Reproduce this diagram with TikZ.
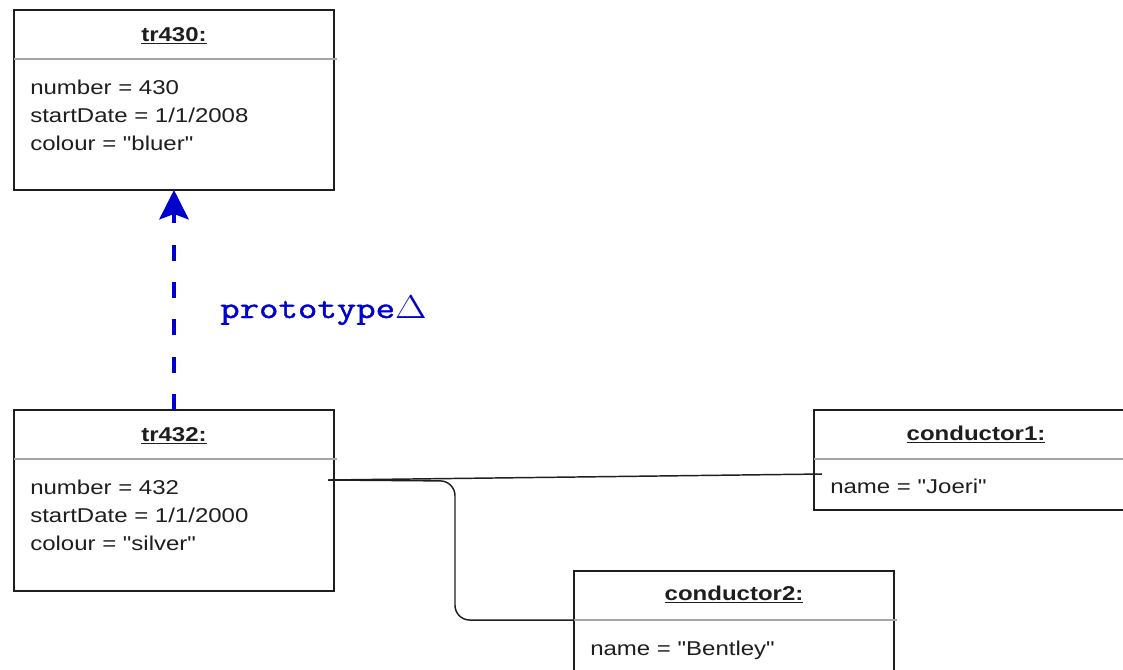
\documentclass[tikz,border=0pt]{standalone}
\usepackage{graphicx}
\usepackage[no-math]{fontspec}
\setmainfont{Liberation Sans}[FakeStretch=1.2, Ligatures=TeXOff]
\newfontfamily\protofont{Latin Modern Mono}[FakeBold=1.2]
\usetikzlibrary{arrows.meta,calc}
\definecolor{protoblue}{RGB}{0,0,205}
\definecolor{divgray}{RGB}{165,165,165}
\definecolor{inkcol}{RGB}{30,30,30}
\tikzset{
  objbox/.style={draw=inkcol, line width=1.4pt, inner sep=0pt, outer sep=0pt},
  divider/.style={draw=divgray, line width=1.2pt},
  objtitle/.style={font=\fontsize{15pt}{21pt}\selectfont\bfseries, text=inkcol, inner sep=0pt, anchor=base},
  attr/.style={font=\fontsize{15pt}{21pt}\selectfont, text=inkcol, inner sep=0pt, anchor=base west},
  link/.style={draw=inkcol, line width=1.1pt},
  protolink/.style={draw=protoblue, line width=3pt, dash pattern=on 12pt off 16pt, -{Stealth[length=22pt,width=22pt,inset=4pt]}},
  protolabel/.style={text=protoblue, inner sep=0pt, anchor=base west, font=\fontsize{23pt}{28pt}\selectfont\protofont}
}
\begin{document}
\begin{tikzpicture}[x=0.75pt,y=-0.75pt]
\clip (0,0) rectangle (1123,669);
\useasboundingbox (0,0) rectangle (1123,669);

% tr430
\node[objbox, minimum width=240pt, minimum height=135pt] (tr430) at (174,100) {};
\draw[divider] ($(tr430.north west)+(0,49)$) -- ($(tr430.north east)+(3,49)$);
\node[objtitle] (tr430t) at ($(tr430.north)+(0,31)$) {\underline{tr430:}};
\node[attr] (tr430a) at ($(tr430.north west)+(16,84)$) {number = 430};
\node[attr] (tr430b) at ($(tr430.north west)+(16,112)$) {startDate = 1/1/2008};
\node[attr] (tr430c) at ($(tr430.north west)+(16,140)$) {colour = "bluer"};

% tr432
\node[objbox, minimum width=240pt, minimum height=135.75pt] (tr432) at (174,500.5) {};
\draw[divider] ($(tr432.north west)+(0,49)$) -- ($(tr432.north east)+(3,49)$);
\node[objtitle] (tr432t) at ($(tr432.north)+(0,31)$) {\underline{tr432:}};
\node[attr] (tr432a) at ($(tr432.north west)+(16,84)$) {number = 432};
\node[attr] (tr432b) at ($(tr432.north west)+(16,112)$) {startDate = 1/1/2000};
\node[attr] (tr432c) at ($(tr432.north west)+(16,140)$) {colour = "silver"};

% conductor1
\node[objbox, minimum width=243pt, minimum height=75pt] (cond1) at (976,460) {};
\draw[divider] ($(cond1.north west)+(0,49)$) -- ($(cond1.north east)+(3,49)$);
\node[objtitle] (cond1t) at ($(cond1.north)+(0,30)$) {\underline{conductor1:}};
\node[attr] (cond1a) at ($(cond1.north west)+(16,83)$) {name = "Joeri"};

% conductor2
\node[objbox, minimum width=240pt, minimum height=150pt] (cond2) at (734,671) {};
\draw[divider] ($(cond2.north west)+(0,49)$) -- ($(cond2.north east)+(3,49)$);
\node[objtitle] (cond2t) at ($(cond2.north)+(0,29)$) {\underline{conductor2:}};
\node[attr] (cond2a) at ($(cond2.north west)+(16,84)$) {name = "Bentley"};

% links
\coordinate (c1s) at ($(tr432.north east)+(-6,70)$);
\coordinate (c1e) at ($(cond1.north west)+(8,64)$);
\coordinate (c2e) at ($(cond2.north west)+(0,49)$);
\draw[link] (c1s) -- (c1e);
\draw[link, rounded corners=11pt] (c1s) -- ($(c1s)+(127,1)$) |- (c2e);

% prototype arrow
\draw[protolink] (tr432.north) -- (tr430.south);
\node[protolabel] (proto) at (220,318) {\scalebox{1.23}[1]{prototype$\Delta$}};
\end{tikzpicture}
\end{document}
